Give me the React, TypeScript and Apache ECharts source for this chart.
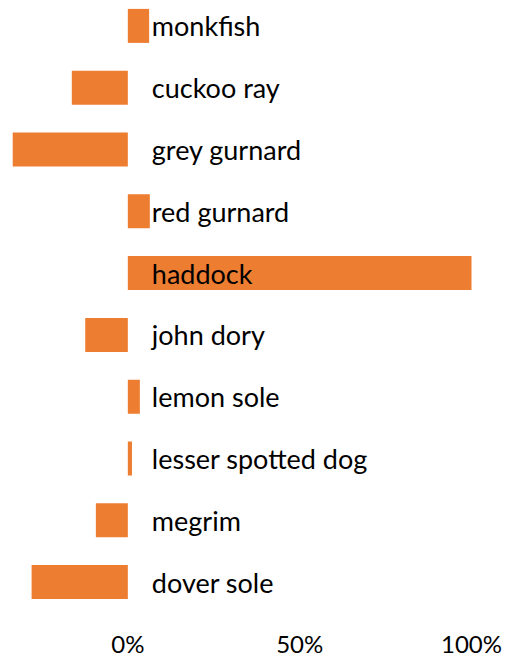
import React, { useEffect, useRef } from "react";
import * as echarts from "echarts";

const categories = [
  "monkfish",
  "cuckoo ray",
  "grey gurnard",
  "red gurnard",
  "haddock",
  "john dory",
  "lemon sole",
  "lesser spotted dog",
  "megrim",
  "dover sole",
];
const values = [0.062, -0.163, -0.335, 0.064, 1.0, -0.124, 0.035, 0.012, -0.093, -0.28];
const xTicks = [-0.5, 0, 0.5, 1];

export default function App() {
  const ref = useRef<HTMLDivElement>(null);
  useEffect(() => {
    if (!ref.current) return;
    const chart = echarts.init(ref.current, null, { renderer: "svg" });
    const gridLeft = -44;
    const gridWidth = 515.5;
    const zeroX = gridLeft + gridWidth / 3;
    chart.setOption({
      animation: false,
      backgroundColor: "#ffffff",
      grid: {
        left: gridLeft,
        width: gridWidth,
        top: -5,
        height: 618,
        containLabel: false,
        outerBoundsMode: "none",
      },
      xAxis: {
        type: "value",
        min: xTicks[0],
        max: xTicks[xTicks.length - 1],
        interval: 0.5,
        splitLine: { show: false },
        axisLine: { show: false },
        axisTick: { show: false },
        axisLabel: {
          margin: 18,
          lineHeight: 24,
          fontFamily: "Lato, 'Noto Sans', sans-serif",
          fontSize: 24,
          color: "#000000",
          formatter: (v: number) => (v < 0 ? "" : Math.round(v * 100) + "%"),
        },
      },
      yAxis: {
        type: "category",
        data: categories,
        inverse: true,
        position: "left",
        offset: -(zeroX - gridLeft),
        z: 10,
        axisLine: { show: false, onZero: false },
        axisTick: { show: false },
        splitLine: { show: false },
        axisLabel: {
          inside: true,
          margin: 24,
          padding: [0, 0, 4, 0],
          fontFamily: "Lato, 'Noto Sans', sans-serif",
          fontSize: 27,
          color: "#000000",
        },
      },
      series: [
        {
          type: "bar",
          data: values,
          barWidth: 34,
          z: 2,
          itemStyle: { color: "#ED7D31" },
        },
      ],
    });
    return () => chart.dispose();
  }, []);
  return (
    <div
      ref={ref}
      style={{ position: "fixed", left: 0, top: 0, width: 511, height: 658 }}
    />
  );
}
